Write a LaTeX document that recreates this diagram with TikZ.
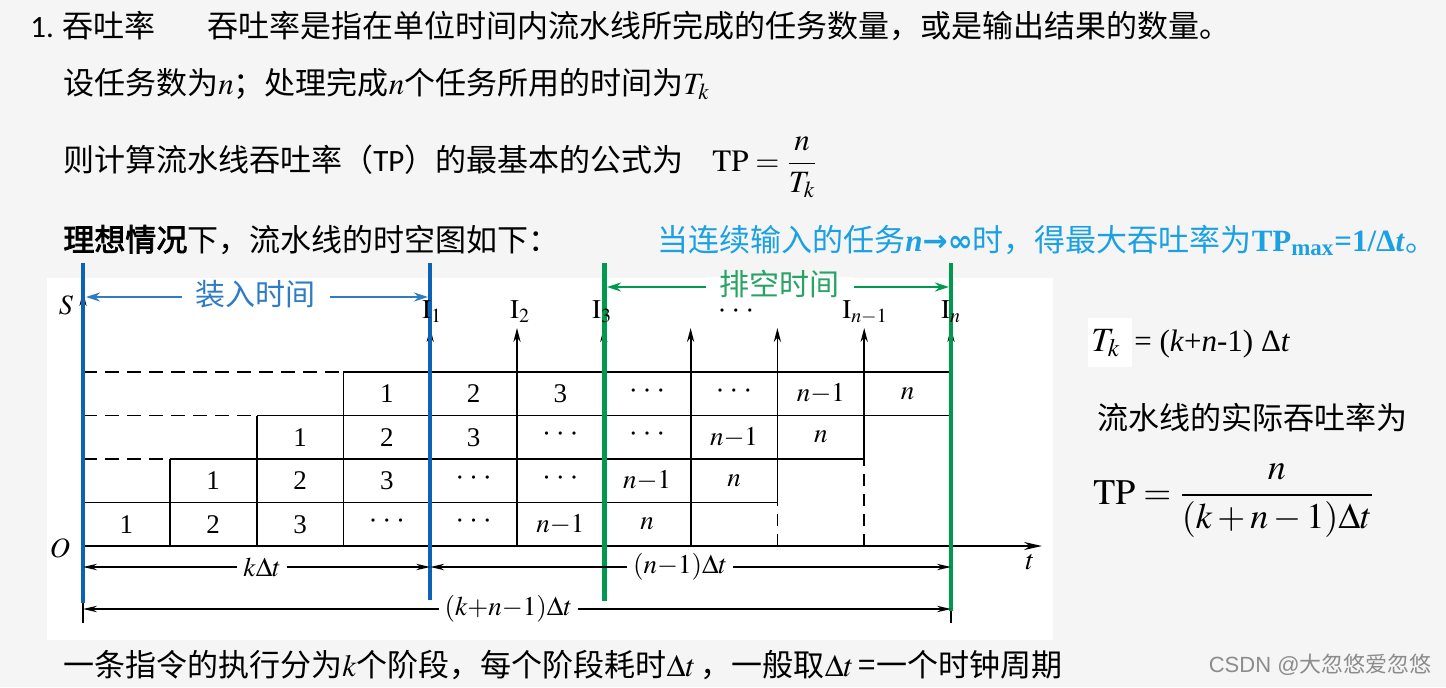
\documentclass[tikz,border=0pt]{standalone}
\usepackage{mathptmx}
\usepackage[no-math]{fontspec}
\setmainfont{Noto Sans CJK SC}[BoldFont={Noto Sans CJK SC},BoldFeatures={FakeBold=2.5}]
\newfontfamily\tms{Liberation Serif}
\newfontfamily\dvs{DejaVu Sans}
\newfontfamily\carl{Carlito}
\newfontfamily\lsans{Liberation Sans}
\usetikzlibrary{arrows.meta}
\definecolor{bgc}{HTML}{F5F5F5}
\definecolor{lineblue}{HTML}{0B62B6}
\definecolor{txtblue}{HTML}{2F7CC4}
\definecolor{linegreen}{HTML}{009A4E}
\definecolor{txtgreen}{HTML}{27A363}
\definecolor{cyantxt}{HTML}{1BA1E2}
\newcommand\mydots{·\hspace{2.4pt}·\hspace{2.4pt}·}
\newcommand\nmo{$n{-}1$}
\begin{document}
\begin{tikzpicture}[x=0.5pt,y=-0.5pt,
  grid/.style={line width=0.9pt,black},
  dashline/.style={line width=0.9pt,dash pattern=on 7pt off 4pt},
  vdashline/.style={line width=0.9pt,dash pattern=on 6pt off 4pt},
  uparrow/.style={-{Stealth[length=7pt,width=3.6pt]}},
  dim/.style={line width=0.8pt,{Stealth[length=7pt,width=3.2pt]}-{Stealth[length=7pt,width=3.2pt]}},
  dimlbl/.style={fill=white,inner xsep=3pt,inner ysep=1pt,font=\fontsize{13.5pt}{16pt}\selectfont},
  cell/.style={font=\tms\fontsize{13.5pt}{16pt}\selectfont,inner sep=0pt},
  ilbl/.style={anchor=base,inner sep=0pt,font=\fontsize{13.5pt}{16pt}\selectfont},
  txt/.style={anchor=base west,inner sep=0pt,font=\fontsize{15.5pt}{18pt}\selectfont},
  colblue/.style={line width=2.2pt,lineblue},
  colgreen/.style={line width=2.2pt,linegreen},
  hdr/.style={line width=1pt,{Stealth[length=7pt,width=4.5pt]}-{Stealth[length=7pt,width=4.5pt]}},
  hdrlbl/.style={fill=white,inner xsep=7pt,inner ysep=0pt,text height=9pt,text depth=1pt,font=\fontsize{15pt}{18pt}\selectfont},
]
\fill[bgc] (0,0) rectangle (1446,687);
\useasboundingbox (0,0) rectangle (1446,687);
\fill[white] (47,278) rectangle (1053,640);
\fill[white] (1088,318) rectangle (1132,367);

% ---------- text above ----------
\node[txt,font=\carl\fontsize{15.5pt}{18pt}\selectfont] (num) at (30,37) {1.};
\node[txt] (title) at (62,37) {吞吐率};
\node[txt] (def) at (207,37) {吞吐率是指在单位时间内流水线所完成的任务数量，或是输出结果的数量。};
\node[txt] (line2) at (63,94) {设任务数为$n$；处理完成$n$个任务所用的时间为$T_k$};
\node[txt] (line3) at (63,171) {则计算流水线吞吐率（{\carl TP}）的最基本的公式为};
\node[txt] (f1) at (712,171) {$\mathrm{TP}=\displaystyle\frac{n}{T_k}$};
\node[txt] (line4) at (63,251) {\textbf{理想情况}下，流水线的时空图如下：};
\node[txt,text=cyantxt] (maxtp) at (657,251) {当连续输入的任务{\tms\bfseries\itshape n}{\dvs\bfseries\fontsize{15pt}{18pt}\selectfont →∞}时，得最大吞吐率为{\tms\bfseries TP\textsubscript{max}=1/Δ\textit{t}}。};

% ---------- grid coordinates ----------
\foreach \i in {0,...,10}{
  \foreach \j in {0,...,4}{
    \coordinate (p\i-\j) at ({83+86.8*\i},{546-43.5*\j});
  }
  \coordinate (a\i) at ({83+86.8*\i},328);
}

% horizontal row lines
\draw[grid] (p0-1) -- (p8-1);
\draw[dashline] (p0-2) -- (p1-2);
\draw[grid] (p1-2) -- (p9-2);
\draw[dashline] (p0-3) -- (p2-3);
\draw[grid] (p2-3) -- (p10-3);
\draw[dashline] (p0-4) -- (p3-4);
\draw[grid] (p3-4) -- (p10-4);

% vertical lines
\draw[grid] (p1-0) -- (p1-2);
\draw[grid] (p2-0) -- (p2-3);
\draw[grid] (p3-0) -- (p3-4);
\foreach \i in {4,5,6,7}{\draw[grid,uparrow] (p\i-0) -- (a\i);}
\draw[vdashline] (p8-0) -- (p8-1);
\draw[grid,uparrow] (p8-1) -- (a8);
\draw[vdashline] (p9-0) -- (p9-2);
\draw[grid,uparrow] (p9-2) -- (a9);
\draw[grid,uparrow] (p10-3) -- (a10);

% axes
\coordinate (tend) at (1042,546);
\coordinate (sy) at (83,292);
\draw[grid,-{Stealth[length=9pt,width=4pt]}] (p0-0) -- (tend);
\draw[grid,uparrow] (p0-0) -- (sy);
\node[font=\fontsize{14pt}{16pt}\selectfont] (S) at (66,305) {$S$};
\node[font=\fontsize{14pt}{16pt}\selectfont] (O) at (60,548) {$O$};
\node[font=\fontsize{14pt}{16pt}\selectfont] (t) at (1030,562) {$t$};

% extension ticks
\coordinate (b0) at (83,623);
\coordinate (b4) at (430.2,585);
\coordinate (b10) at (951,623);
\draw[grid] (p0-0) -- (b0);
\draw[grid] (p4-0) -- (b4);
\draw[grid] (p10-0) -- (b10);

% cell labels
\foreach \r in {1,...,4}{
  \foreach \lab [count=\k from 0] in {1,2,3,\mydots,\mydots,\nmo,$n$}{
    \node[cell] (c\r-\k) at ({83+86.8*(\r-1+\k)+43.4},{546-43.5*\r+21.75}) {\lab};
  }
}

% coloured boundary lines
\coordinate (bl0t) at (83,263);
\coordinate (bl0b) at (83,603);
\coordinate (bl4t) at (430.2,263);
\coordinate (bl4b) at (430.2,600);
\coordinate (gr6t) at (604.5,263);
\coordinate (gr6b) at (604.5,601);
\coordinate (gr10t) at (951,263);
\coordinate (gr10b) at (951,611);
\draw[colblue] (bl0t) -- (bl0b);
\draw[colblue] (bl4t) -- (bl4b);
\draw[colgreen] (gr6t) -- (gr6b);
\draw[colgreen] (gr10t) -- (gr10b);

% instruction labels
\node[ilbl] (I1) at (432,318) {$\mathrm{I}_1$};
\node[ilbl] (I2) at (520,318) {$\mathrm{I}_2$};
\node[ilbl] (I3) at (602,318) {$\mathrm{I}_3$};
\node[ilbl,font=\tms\fontsize{13.5pt}{16pt}\selectfont] (Id) at (736,319) {\mydots};
\node[ilbl] (In1) at (865,318) {$\mathrm{I}_{n-1}$};
\node[ilbl] (In) at (951,318) {$\mathrm{I}_n$};

% dimension lines
\coordinate (d0) at (83,567);
\coordinate (d4) at (430.2,567);
\coordinate (d10) at (951,567);
\coordinate (e0) at (83,609);
\coordinate (e10) at (951,609);
\draw[dim] (d0) -- node[dimlbl,pos=0.516] (lk) {$k\Delta t$} (d4);
\draw[dim] (d4) -- node[dimlbl,pos=0.48] (ln) {$(n{-}1)\Delta t$} (d10);
\draw[dim] (e0) -- node[dimlbl,pos=0.49] (lkn) {$(k{+}n{-}1)\Delta t$} (e10);

% header arrows
\coordinate (hb0) at (86,297);
\coordinate (hb4) at (428,297);
\coordinate (hg6) at (607,287);
\coordinate (hg10) at (949,287);
\draw[hdr,txtblue] (hb0) -- node[hdrlbl,text=txtblue,pos=0.497] (load) {装入时间} (hb4);
\draw[hdr,linegreen] (hg6) -- node[hdrlbl,text=txtgreen,pos=0.505] (drain) {排空时间} (hg10);

% right side formulas
\node[anchor=base west,inner sep=0pt,font=\fontsize{17pt}{20pt}\selectfont] (Tk) at (1091,351) {$T_k$};
\node[anchor=base west,inner sep=0pt,font=\tms\fontsize{15.5pt}{18pt}\selectfont] (Tkr) at (1134,351) {= (\textit{k}+\textit{n}-1) Δ\textit{t}};
\node[txt] (real) at (1097,429) {流水线的实际吞吐率为};
\node[anchor=base west,inner sep=0pt,font=\fontsize{18pt}{21pt}\selectfont] (f2) at (1093,504) {$\mathrm{TP}=\displaystyle\frac{n}{(k+n-1)\Delta t}$};

% bottom text
\node[txt] (bottom) at (63,676) {一条指令的执行分为$k$个阶段，每个阶段耗时$\Delta t$\,，一般取$\Delta t$\,=一个时钟周期};
\node[anchor=base east,inner sep=0pt,text=black!45,font=\fontsize{11pt}{13pt}\selectfont] (wm) at (1432,672) {{\lsans CSDN @}大忽悠爱忽悠};
\end{tikzpicture}
\end{document}
